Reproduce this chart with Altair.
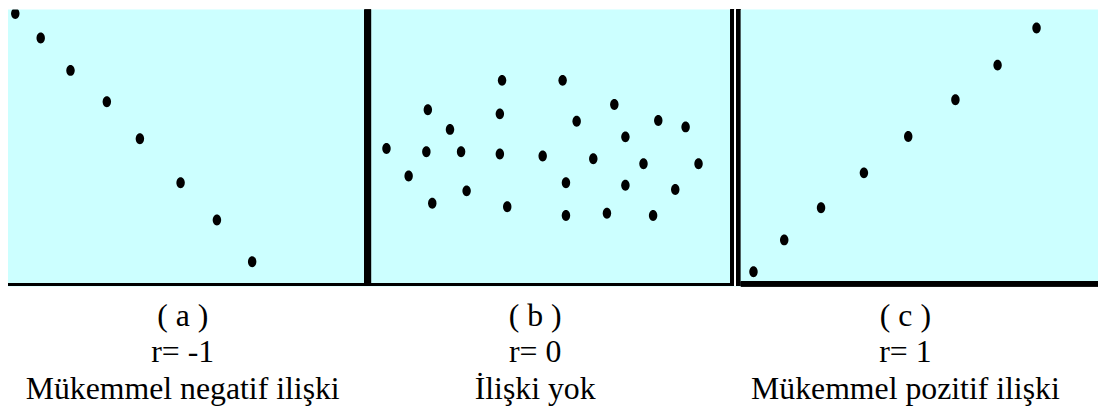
import altair as alt
import pandas as pd

# Panel (a): perfect negative relation
a_x = [0.20, 0.90, 1.72, 2.72, 3.63, 4.75, 5.75, 6.72]
a_y = [9.85, 8.97, 7.80, 6.67, 5.33, 3.74, 2.40, 0.89]

# Panel (b): no relation
b_x = [3.54, 5.18, 1.53, 3.48, 6.58, 5.56, 7.77, 8.51, 2.13, 6.88,
       0.41, 1.49, 2.43, 3.48, 4.64, 6.01, 7.37, 8.86, 1.01, 5.27,
       6.88, 8.23, 2.58, 1.65, 3.68, 5.27, 6.38, 7.63]
b_y = [7.44, 7.44, 6.38, 6.23, 6.57, 5.96, 5.99, 5.76, 5.67, 5.40,
       4.98, 4.86, 4.86, 4.78, 4.71, 4.61, 4.43, 4.43, 3.99, 3.74,
       3.65, 3.50, 3.45, 3.00, 2.88, 2.56, 2.64, 2.56]

# Panel (c): perfect positive relation
c_x = [0.36, 1.22, 2.25, 3.45, 4.69, 6.01, 7.19, 8.28]
c_y = [0.53, 1.68, 2.84, 4.10, 5.41, 6.74, 7.99, 9.33]

labels_a = ["( a )", "r= -1", "Mükemmel negatif ilişki"]
labels_b = ["( b )", "r= 0", "İlişki yok"]
labels_c = ["( c )", "r= 1", "Mükemmel pozitif ilişki"]

BG = "#ccffff"
H = 279
ELLIPSE = "M0,-1.3 C0.6,-1.3 1,-0.7 1,0 C1,0.7 0.6,1.3 0,1.3 C-0.6,1.3 -1,0.7 -1,0 C-1,-0.7 -0.6,-1.3 0,-1.3 Z"


def panel(xs, ys, width, labels, dx, bottom_width, bottom_y, seps):
    df = pd.DataFrame({"x": xs, "y": ys})
    pts = alt.Chart(df).mark_point(
        filled=True, shape=ELLIPSE, size=72, color="black", opacity=1, clip=True
    ).encode(
        x=alt.X("x:Q", scale=alt.Scale(domain=[0, 10], nice=False), axis=None),
        y=alt.Y("y:Q", scale=alt.Scale(domain=[0, 10], nice=False), axis=None),
    )
    layers = [pts]
    base = alt.Chart(df)
    layers.append(
        base.mark_rule(color="black", strokeWidth=bottom_width, clip=True).encode(
            x=alt.value(0), x2=alt.value(width), y=alt.value(bottom_y)
        )
    )
    for xpos, sw, col in seps:
        layers.append(
            base.mark_rule(color=col, strokeWidth=sw, clip=True).encode(
                x=alt.value(xpos), y=alt.value(0), y2=alt.value(bottom_y + bottom_width / 2)
            )
        )
    return alt.layer(*layers).properties(
        width=width,
        height=H,
        title=alt.TitleParams(
            text=labels,
            orient="bottom",
            anchor="middle",
            font="Liberation Serif",
            fontSize=32,
            fontWeight="normal",
            color="black",
            lineHeight=36.5,
            baseline="alphabetic",
            offset=40,
            dx=dx,
        ),
    )


pa = panel(a_x, a_y, 366, labels_a, -7, 2, 277, [(362.5, 7, "black")])
pb = panel(b_x, b_y, 372, labels_b, -21, 2, 277,
           [(364, 4, "black"), (367, 2, "white"), (370, 4, "black")])
pc = panel(c_x, c_y, 360, labels_c, -14, 5, 276.5, [])

chart = alt.hconcat(pa, pb, pc, spacing=0).properties(padding=0).configure_view(
    fill=BG, strokeWidth=0
)

chart.save("out.html", embed_options={"renderer": "svg", "actions": False})
